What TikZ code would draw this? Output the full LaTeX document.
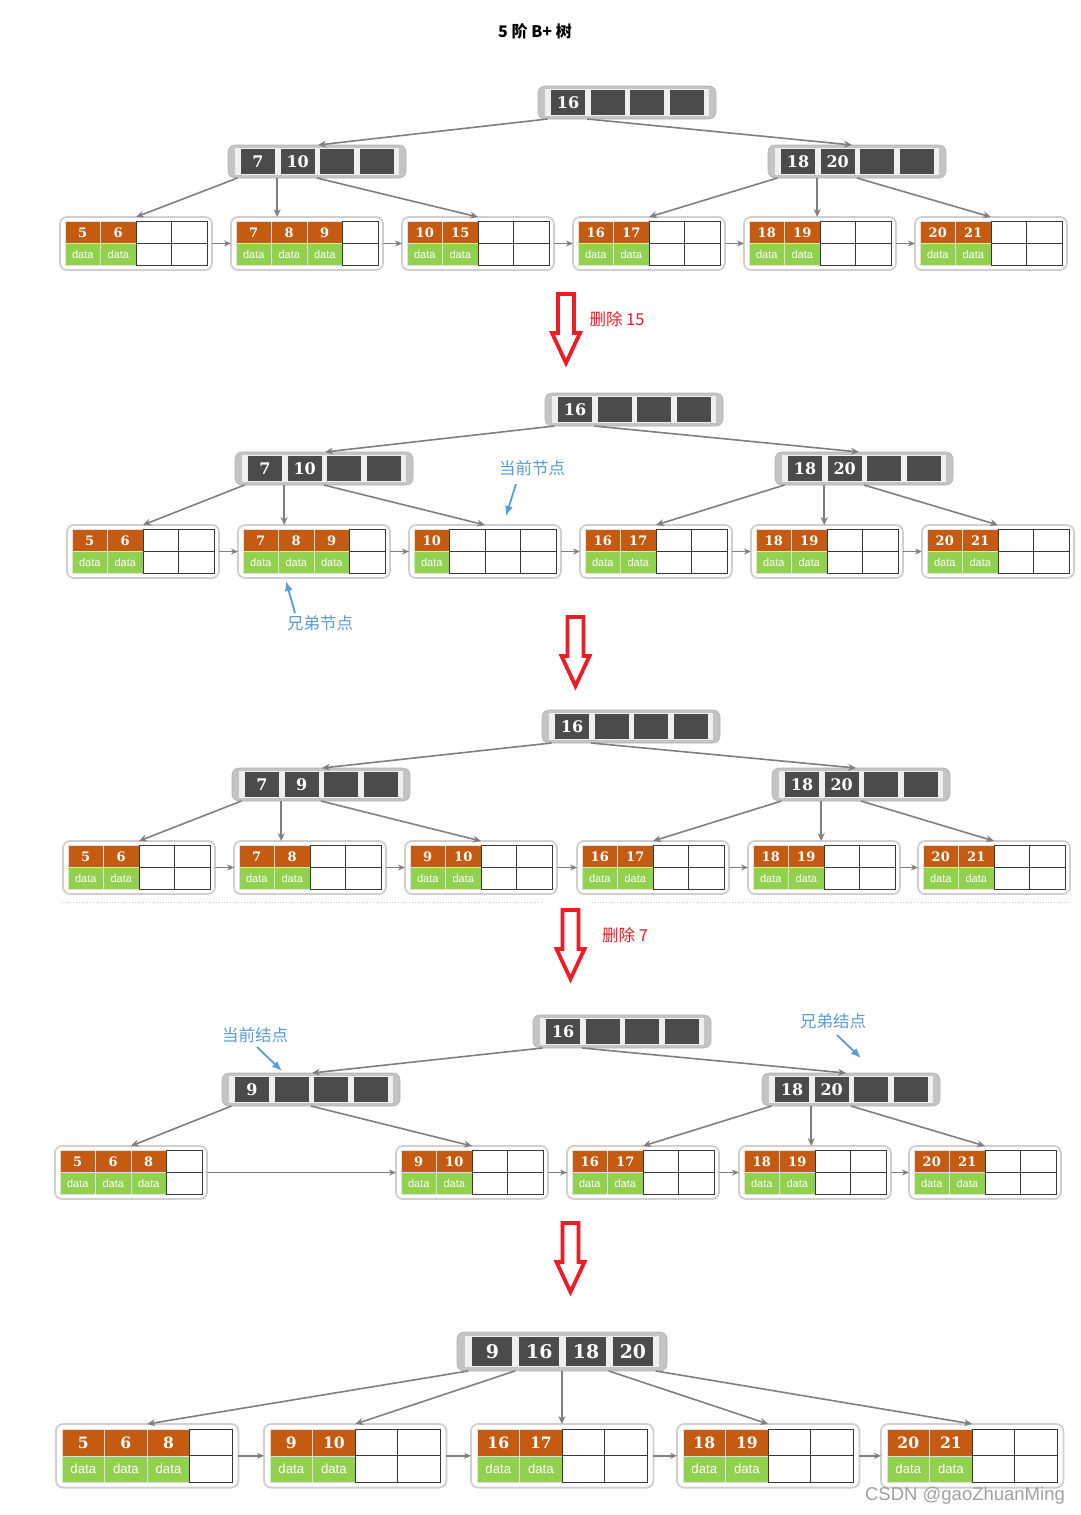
\documentclass[tikz,border=0pt]{standalone}
\usepackage{fontspec}
\usetikzlibrary{arrows.meta}
\newfontfamily\cjk{Noto Sans CJK SC}
\newfontfamily\dsf{Liberation Sans}
\newfontfamily\numf{DejaVu Serif}
\definecolor{keyorange}{HTML}{C55A11}
\definecolor{datagreen}{HTML}{92D050}
\definecolor{idark}{HTML}{4B4B4B}
\definecolor{irim}{HTML}{C4C4C4}
\definecolor{iinner}{HTML}{EFEFEF}
\definecolor{edgegray}{HTML}{7F7F7F}
\definecolor{lframe}{HTML}{CFCFCF}
\definecolor{redarr}{HTML}{EE1C25}
\definecolor{noteblue}{HTML}{5B9BD5}
\definecolor{dotc}{HTML}{CFCFA8}
\definecolor{wmark}{HTML}{A0A0A0}
\tikzset{
  iframe/.style={fill=irim, draw=black!30, line width=0.6pt, rounded corners=7pt, inner sep=0pt, outer sep=0pt},
  ikey/.style={fill=idark, inner sep=0pt, outer sep=0pt, text=white},
  leafframe/.style={draw=lframe, line width=1.8pt, fill=white, rounded corners=7pt, inner sep=0pt, outer sep=0pt},
  keycell/.style={fill=keyorange, draw=black!12, line width=0.6pt, inner sep=0pt, outer sep=0pt, text=white},
  datacell/.style={fill=datagreen, draw=black!12, line width=0.6pt, inner sep=0pt, outer sep=0pt, text=white},
  emptycell/.style={fill=white, draw=black!78, line width=0.9pt, inner sep=0pt, outer sep=0pt},
  edge/.style={draw=edgegray, line width=1.6pt, -{Stealth[length=8pt,width=7pt]}},
  link/.style={draw=edgegray, line width=1.4pt, -{Stealth[length=7pt,width=6pt]}},
  redarrow/.style={draw=redarr, line width=3.8pt, fill=white, line join=miter},
  note/.style={text=noteblue, font=\cjk\fontsize{16.5}{16.5}\selectfont, inner sep=1pt},
  notearrow/.style={draw=noteblue, line width=1.8pt, -{Latex[length=10pt,width=8pt]}},
  redlabel/.style={text=redarr, font=\cjk\fontsize{16.5}{16.5}\selectfont, inner sep=1pt},
  dotline/.style={draw=dotc, line width=0.8pt, dotted}
}
% internal node: name, x, y, scale, k1..k4
\newcommand\inode[8]{%
  \pgfmathsetmacro\INw{178*#4}%
  \pgfmathsetmacro\INh{33*#4}%
  \pgfmathsetmacro\INkw{34*#4}%
  \pgfmathsetmacro\INkh{25*#4}%
  \pgfmathsetmacro\INf{16*#4}%
  \node[iframe, minimum width=\INw pt, minimum height=\INh pt, anchor=north west] (#1) at (#2,#3) {};
  \fill[iinner] ({#2+7*#4},{#3+3*#4}) rectangle ({#2+\INw-7*#4},{#3+\INh-3*#4});
  \node[ikey, minimum width=\INkw pt, minimum height=\INkh pt, font=\numf\bfseries\fontsize{\INf}{\INf}\selectfont] (#1-1) at ({#2+30*#4},{#3+16.5*#4}) {#5};
  \node[ikey, minimum width=\INkw pt, minimum height=\INkh pt, font=\numf\bfseries\fontsize{\INf}{\INf}\selectfont] (#1-2) at ({#2+69.7*#4},{#3+16.5*#4}) {#6};
  \node[ikey, minimum width=\INkw pt, minimum height=\INkh pt, font=\numf\bfseries\fontsize{\INf}{\INf}\selectfont] (#1-3) at ({#2+109.4*#4},{#3+16.5*#4}) {#7};
  \node[ikey, minimum width=\INkw pt, minimum height=\INkh pt, font=\numf\bfseries\fontsize{\INf}{\INf}\selectfont] (#1-4) at ({#2+149.1*#4},{#3+16.5*#4}) {#8};
  \foreach \i in {0,...,4}{\coordinate (#1-p\i) at ({#2+(9.5+39.7*\i)*#4},{#3+\INh});}%
}
\newcommand\leafcell[3]{%
  \pgfmathsetmacro\LFxa{\LFx+(#2-1)*\LFcw}%
  \if\relax\detokenize{#3}\relax
    \node[emptycell, minimum width=\LFcw pt, minimum height=\LFch pt, anchor=north west] (#1-k#2) at (\LFxa,\LFy) {};
    \node[emptycell, minimum width=\LFcw pt, minimum height=\LFch pt, anchor=north west] (#1-d#2) at (\LFxa,\LFym) {};
  \else
    \node[keycell, minimum width=\LFcw pt, minimum height=\LFch pt, anchor=north west, font=\numf\bfseries\fontsize{\LFkf}{\LFkf}\selectfont] (#1-k#2) at (\LFxa,\LFy) {#3};
    \node[datacell, minimum width=\LFcw pt, minimum height=\LFch pt, anchor=north west, font=\dsf\fontsize{\LFdf}{\LFdf}\selectfont] (#1-d#2) at (\LFxa,\LFym) {data};
  \fi
}
% leaf node: name, x, y, scale, k1..k3
\newcommand\leafnode[7]{%
  \pgfmathsetmacro\LFw{152*#4}%
  \pgfmathsetmacro\LFh{53*#4}%
  \pgfmathsetmacro\LFcw{35.5*#4}%
  \pgfmathsetmacro\LFch{22*#4}%
  \pgfmathsetmacro\LFx{#2+5*#4}%
  \pgfmathsetmacro\LFy{#3+4.5*#4}%
  \pgfmathsetmacro\LFym{\LFy+\LFch}%
  \pgfmathsetmacro\LFkf{13*#4}%
  \pgfmathsetmacro\LFdf{11*#4}%
  \node[leafframe, minimum width=\LFw pt, minimum height=\LFh pt, anchor=north west] (#1) at (#2,#3) {};
  \leafcell{#1}{1}{#5}\leafcell{#1}{2}{#6}\leafcell{#1}{3}{#7}\leafcell{#1}{4}{}%
}
\newcommand\redarrowshape[2]{%
  \draw[redarrow] ({#1-8},#2) -- ({#1+8},#2) -- ({#1+8},{#2+39}) -- ({#1+14},{#2+39}) -- (#1,{#2+69}) -- ({#1-14},{#2+39}) -- ({#1-8},{#2+39}) -- cycle;%
}
\begin{document}
\begin{tikzpicture}[x=1pt,y=-1pt]
\useasboundingbox[fill=white] (0,0) rectangle (1080,1515);

\node[font=\cjk\bfseries\fontsize{16}{16}\selectfont] (title) at (535,31) {5 阶 B+ 树};

% ---------- panel 1 ----------
\inode{r1}{538}{86}{1}{16}{}{}{}
\inode{a1}{228}{145}{1}{7}{10}{}{}
\inode{b1}{768}{145}{1}{18}{20}{}{}
\leafnode{l11}{60}{217}{1}{5}{6}{}
\leafnode{l12}{231}{217}{1}{7}{8}{9}
\leafnode{l13}{402}{217}{1}{10}{15}{}
\leafnode{l14}{573}{217}{1}{16}{17}{}
\leafnode{l15}{744}{217}{1}{18}{19}{}
\leafnode{l16}{915}{217}{1}{20}{21}{}
\draw[edge] (r1-p0) -- ([xshift=90pt]a1.north west);
\draw[edge] (r1-p1) -- ([xshift=84pt]b1.north west);
\draw[edge] (a1-p0) -- (l11.north);
\draw[edge] (a1-p1) -- (a1-p1 |- l12.north);
\draw[edge] (a1-p2) -- (l13.north);
\draw[edge] (b1-p0) -- (l14.north);
\draw[edge] (b1-p1) -- (b1-p1 |- l15.north);
\draw[edge] (b1-p2) -- (l16.north);
\draw[link] (l11.east) -- (l12.west);
\draw[link] (l12.east) -- (l13.west);
\draw[link] (l13.east) -- (l14.west);
\draw[link] (l14.east) -- (l15.west);
\draw[link] (l15.east) -- (l16.west);

\redarrowshape{566}{294}
\node[redlabel] (del15) at (617,319) {删除 15};

% ---------- panel 2 ----------
\inode{r2}{545}{393}{1}{16}{}{}{}
\inode{a2}{235}{452}{1}{7}{10}{}{}
\inode{b2}{775}{452}{1}{18}{20}{}{}
\leafnode{l21}{67}{525}{1}{5}{6}{}
\leafnode{l22}{238}{525}{1}{7}{8}{9}
\leafnode{l23}{409}{525}{1}{10}{}{}
\leafnode{l24}{580}{525}{1}{16}{17}{}
\leafnode{l25}{751}{525}{1}{18}{19}{}
\leafnode{l26}{922}{525}{1}{20}{21}{}
\draw[edge] (r2-p0) -- ([xshift=90pt]a2.north west);
\draw[edge] (r2-p1) -- ([xshift=84pt]b2.north west);
\draw[edge] (a2-p0) -- (l21.north);
\draw[edge] (a2-p1) -- (a2-p1 |- l22.north);
\draw[edge] (a2-p2) -- (l23.north);
\draw[edge] (b2-p0) -- (l24.north);
\draw[edge] (b2-p1) -- (b2-p1 |- l25.north);
\draw[edge] (b2-p2) -- (l26.north);
\draw[link] (l21.east) -- (l22.west);
\draw[link] (l22.east) -- (l23.west);
\draw[link] (l23.east) -- (l24.west);
\draw[link] (l24.east) -- (l25.west);
\draw[link] (l25.east) -- (l26.west);
\node[note] (cur2) at (532,468) {当前节点};
\coordinate (cur2a) at (516,484);
\coordinate (cur2b) at (506,516);
\draw[notearrow] (cur2a) -- (cur2b);
\node[note] (sib2) at (320,623) {兄弟节点};
\coordinate (sib2a) at (295,613);
\coordinate (sib2b) at (286,581);
\draw[notearrow] (sib2a) -- (sib2b);

\redarrowshape{575.5}{617}

% ---------- panel 3 ----------
\inode{r3}{542}{710}{1}{16}{}{}{}
\inode{a3}{232}{768}{1}{7}{9}{}{}
\inode{b3}{772}{768}{1}{18}{20}{}{}
\leafnode{l31}{63}{841}{1}{5}{6}{}
\leafnode{l32}{234}{841}{1}{7}{8}{}
\leafnode{l33}{405}{841}{1}{9}{10}{}
\leafnode{l34}{577}{841}{1}{16}{17}{}
\leafnode{l35}{748}{841}{1}{18}{19}{}
\leafnode{l36}{918}{841}{1}{20}{21}{}
\draw[edge] (r3-p0) -- ([xshift=90pt]a3.north west);
\draw[edge] (r3-p1) -- ([xshift=84pt]b3.north west);
\draw[edge] (a3-p0) -- (l31.north);
\draw[edge] (a3-p1) -- (a3-p1 |- l32.north);
\draw[edge] (a3-p2) -- (l33.north);
\draw[edge] (b3-p0) -- (l34.north);
\draw[edge] (b3-p1) -- (b3-p1 |- l35.north);
\draw[edge] (b3-p2) -- (l36.north);
\draw[link] (l31.east) -- (l32.west);
\draw[link] (l32.east) -- (l33.west);
\draw[link] (l33.east) -- (l34.west);
\draw[link] (l34.east) -- (l35.west);
\draw[link] (l35.east) -- (l36.west);
\coordinate (dl1) at (62,902);
\coordinate (dl2) at (542,902);
\coordinate (dr1) at (592,902);
\coordinate (dr2) at (1070,902);
\draw[dotline] (dl1) -- (dl2);
\draw[dotline] (dr1) -- (dr2);

\redarrowshape{570.5}{910}
\node[redlabel] (del7) at (625,935) {删除 7};

% ---------- panel 4 ----------
\inode{r4}{533}{1015}{1}{16}{}{}{}
\inode{a4}{222}{1073}{1}{9}{}{}{}
\inode{b4}{762}{1073}{1}{18}{20}{}{}
\leafnode{l41}{55}{1146}{1}{5}{6}{8}
\leafnode{l42}{396}{1146}{1}{9}{10}{}
\leafnode{l43}{567}{1146}{1}{16}{17}{}
\leafnode{l44}{739}{1146}{1}{18}{19}{}
\leafnode{l45}{909}{1146}{1}{20}{21}{}
\draw[edge] (r4-p0) -- ([xshift=90pt]a4.north west);
\draw[edge] (r4-p1) -- ([xshift=84pt]b4.north west);
\draw[edge] (a4-p0) -- (l41.north);
\draw[edge] (a4-p2) -- (l42.north);
\draw[edge] (b4-p0) -- (l43.north);
\draw[edge] (b4-p1) -- (b4-p1 |- l44.north);
\draw[edge] (b4-p2) -- (l45.north);
\draw[link] (l41.east) -- (l42.west);
\draw[link] (l42.east) -- (l43.west);
\draw[link] (l43.east) -- (l44.west);
\draw[link] (l44.east) -- (l45.west);
\node[note] (cur4) at (255,1035) {当前结点};
\coordinate (cur4a) at (257,1047);
\coordinate (cur4b) at (282,1071);
\draw[notearrow] (cur4a) -- (cur4b);
\node[note] (sib4) at (833,1021) {兄弟结点};
\coordinate (sib4a) at (837,1035);
\coordinate (sib4b) at (861,1058);
\draw[notearrow] (sib4a) -- (sib4b);

\redarrowshape{570.5}{1223}

% ---------- panel 5 ----------
\inode{r5}{457}{1332}{1.18}{9}{16}{18}{20}
\leafnode{l51}{56}{1424}{1.2}{5}{6}{8}
\leafnode{l52}{264}{1424}{1.2}{9}{10}{}
\leafnode{l53}{471}{1424}{1.2}{16}{17}{}
\leafnode{l54}{677}{1424}{1.2}{18}{19}{}
\leafnode{l55}{881}{1424}{1.2}{20}{21}{}
\draw[edge] (r5-p0) -- (l51.north);
\draw[edge] (r5-p1) -- (l52.north);
\draw[edge] (r5-p2) -- (r5-p2 |- l53.north);
\draw[edge] (r5-p3) -- (l54.north);
\draw[edge] (r5-p4) -- (l55.north);
\draw[link] (l51.east) -- (l52.west);
\draw[link] (l52.east) -- (l53.west);
\draw[link] (l53.east) -- (l54.west);
\draw[link] (l54.east) -- (l55.west);

\node[text=wmark, font=\dsf\fontsize{18.5}{18.5}\selectfont, inner sep=0pt] (wm) at (965,1496) {CSDN @gaoZhuanMing};
\end{tikzpicture}
\end{document}
